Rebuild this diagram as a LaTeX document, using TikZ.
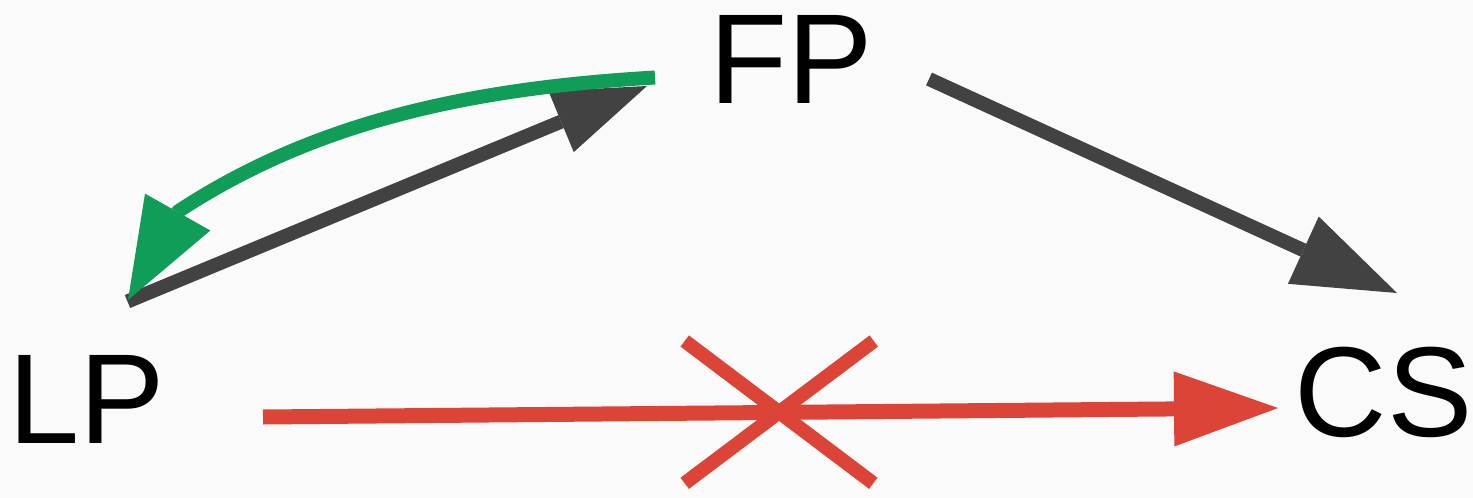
\documentclass[tikz,border=0pt]{standalone}
\usepackage{fontspec}
\setmainfont{Liberation Sans}
\usetikzlibrary{arrows.meta}
\definecolor{bgc}{HTML}{FAFAFA}
\definecolor{gry}{HTML}{424242}
\definecolor{grn}{HTML}{0F9D58}
\definecolor{rd}{HTML}{DB4437}
\tikzset{
  lbl/.style={inner sep=0pt, anchor=base, font=\fontsize{128}{128}\selectfont},
  conn/.style={line width=14pt},
}
\begin{document}
\begin{tikzpicture}[x=1pt,y=-1pt]
\fill[bgc] (0,0) rectangle (1473,498);
\useasboundingbox (0,0) rectangle (1473,498);
\node[lbl] (FP) at (791.5,103) {FP};
\node[lbl] (LP) at (87,443) {LP};
\node[lbl] (CS) at (1383.5,436) {CS};
% connector end points
\coordinate (lpA) at (127.5,301.5);
\coordinate (fpA) at (647,86);
\coordinate (fpB) at (929,79);
\coordinate (csB) at (1397,293);
\coordinate (lpC) at (263,417);
\coordinate (csC) at (1278,408);
\coordinate (fpD) at (655,77.5);
\coordinate (gB) at (178,211.5);
\coordinate (lpD) at (128,300);
\coordinate (xa) at (684.7,341);
\coordinate (xb) at (873.3,483.3);
\coordinate (xc) at (873.8,341);
\coordinate (xd) at (684.7,483.3);
\draw[conn, gry, -{Triangle[length=93pt,width=66pt,line width=0pt]}] (lpA) -- (fpA);
\draw[conn, gry, -{Triangle[length=103pt,width=74pt,line width=0pt]}] (fpB) -- (csB);
\draw[conn, rd, line width=15pt, -{Triangle[length=104pt,width=75pt,line width=0pt]}] (lpC) -- (csC);
\draw[conn, grn, line join=round, -{Triangle[length=101pt,width=75pt,line width=0pt]}] (fpD) .. controls (475,88) and (317,120) .. (gB) -- (lpD);
\draw[conn, rd] (xa) -- (xb);
\draw[conn, rd] (xc) -- (xd);
\end{tikzpicture}
\end{document}
